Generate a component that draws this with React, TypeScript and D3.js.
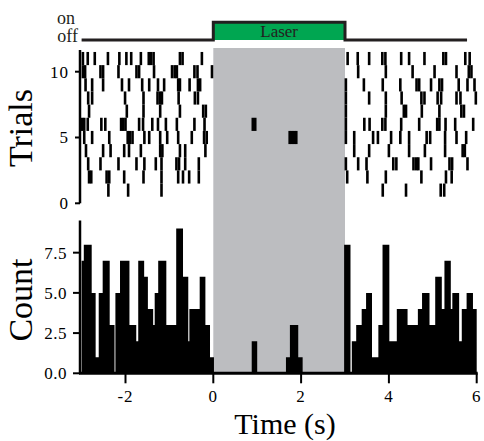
import React from 'react';
import * as d3 from 'd3';

// ---------- data ----------
const xTicks = [-2, 0, 2, 4, 6];
const trialTicks = [0, 5, 10];
const countTicks = [0, 2.5, 5, 7.5];
const laserWindow = [0, 3];
const laserTimes = [-3, 0, 0, 3, 3, 5.78];
const laserLevels = [0, 0, 1, 1, 0, 0];

// spike times (s) per trial, trial 1 = bottom row
const trial01 = [-2.39, -1.94, -1.18, 3.86, 4.39, 5.18, 5.26];
const trial02 = [-2.83, -2.78, -2.43, -2.37, -2.03, -1.59, -1.18, -0.8, -0.69, -0.55, -0.33, 3.05, 3.51, 3.93, 4.74, 5.3, 5.43];
const trial03 = [-2.85, -2.57, -2.16, -1.75, -1.57, -1.31, -1.18, -0.84, -0.78, -0.64, -0.33, 3.02, 3.3, 3.49, 4.1, 4.17, 4.56, 4.62, 4.67, 4.96, 5.38, 5.44, 5.79];
const trial04 = [-2.9, -2.51, -2.34, -2.03, -1.92, -1.65, -1.21, -1.16, -0.76, -0.64, -0.18, 3.21, 3.55, 4.0, 4.46, 4.82, 5.28, 5.68, 5.73];
const trial05 = [-2.94, -2.76, -2.37, -1.95, -1.9, -1.84, -1.57, -1.46, -1.21, -1.05, -0.8, -0.49, -0.21, -0.15, 1.74, 1.79, 1.84, 1.89, 3.02, 3.21, 3.64, 3.75, 4.05, 4.26, 4.46, 4.86, 4.94, 5.28, 5.54, 5.76];
const trial06 = [-2.99, -2.94, -2.86, -2.55, -2.46, -2.1, -2.05, -2.0, -1.69, -1.6, -1.39, -1.26, -1.08, -0.83, -0.43, -0.2, 0.9, 0.955, 3.02, 3.44, 3.56, 3.85, 3.92, 4.28, 4.69, 5.1, 5.15, 5.29, 5.51, 5.92];
const trial07 = [-2.83, -1.97, -1.59, -1.21, -0.76, -0.23, -0.17, 3.02, 3.93, 4.34, 4.39, 4.75, 5.15, 5.65, 5.71];
const trial08 = [-2.85, -2.76, -2.01, -1.59, -1.27, -1.21, -1.17, -0.79, -0.42, -0.35, 3.02, 3.55, 3.93, 4.29, 4.74, 4.81, 5.11, 5.19, 5.54, 5.63, 5.98];
const trial09 = [-2.91, -2.76, -2.51, -2.08, -1.92, -1.62, -1.46, -1.26, -1.12, -0.8, -0.76, -0.54, -0.35, -0.3, 3.02, 3.43, 3.86, 4.26, 4.63, 4.69, 4.96, 5.15, 5.21, 5.59, 5.79, 5.95];
const trial10 = [-2.97, -2.92, -2.57, -2.51, -2.16, -1.75, -1.69, -1.35, -0.94, -0.88, -0.83, -0.43, -0.36, -0.03, 3.3, 3.93, 4.54, 5.04, 5.54, 5.82, 5.88];
const trial11 = [-2.97, -2.86, -2.7, -2.4, -2.14, -1.98, -1.87, -1.65, -1.47, -1.42, -1.36, -0.76, -0.7, -0.26, 3.06, 3.29, 3.55, 3.85, 3.92, 4.28, 4.46, 4.81, 5.24, 5.3, 5.74, 5.84];
const trials = [trial01, trial02, trial03, trial04, trial05, trial06, trial07, trial08, trial09, trial10, trial11];

// histogram: bin edges (s) and counts
const histEdges = [-3.0, -2.95, -2.77, -2.68, -2.61, -2.52, -2.36, -2.25, -2.23, -2.125, -1.91, -1.755, -1.71, -1.575, -1.49, -1.37, -1.335, -1.255, -1.07, -0.845, -0.69, -0.57, -0.545, -0.31, -0.18, -0.075, 0.015, 0.875, 1.0, 1.655, 1.745, 1.935, 2.035, 2.98, 3.125, 3.155, 3.255, 3.38, 3.48, 3.615, 3.76, 3.855, 4.01, 4.18, 4.425, 4.66, 4.755, 4.925, 5.055, 5.205, 5.265, 5.41, 5.445, 5.6, 5.66, 5.77, 5.915, 6.0];
const histCounts = [7, 8, 5, 1, 5, 7, 3, 0, 5, 7, 3, 2, 7, 6, 4, 3, 5, 7, 3, 9, 6, 2, 4, 6, 3, 1, 0, 2, 0, 1, 3, 1, 0, 8, 0, 2, 3, 4, 5, 1, 3, 8, 2, 4, 3, 4, 5, 3, 6, 4, 7, 4, 5, 2, 4, 5, 4];

const FONT = "'Liberation Serif', 'DejaVu Serif', serif";

export default function App() {
  const x = d3.scaleLinear().domain([-3, 6]).range([81.6, 476.7]);
  const yT = d3.scaleLinear().domain([0, 10]).range([203.3, 71.7]);
  const yC = d3.scaleLinear().domain([0, 9.5]).range([373.3, 220.5]);
  const yL = d3.scaleLinear().domain([0, 1]).range([40, 22.3]);

  const laserLine = d3.line<number>()
    .x((_, i) => x(laserTimes[i]))
    .y((_, i) => yL(laserLevels[i]))(laserTimes) || '';

  // step area for histogram
  const stepData = histEdges.map((e, i) => ({ t: e, c: histCounts[Math.min(i, histCounts.length - 1)] }));
  const histArea = d3.area<{ t: number; c: number }>()
    .x((d) => x(d.t))
    .y0(yC(0))
    .y1((d) => yC(d.c))
    .curve(d3.curveStepAfter)(stepData) || '';

  const axisX = 80;
  const tickW = 2.6;

  return (
    <div style={{ position: 'absolute', left: 0, top: 0 }}>
      <svg width={484} height={441} style={{ display: 'block', background: '#fff' }} fontFamily={FONT}>
        {/* laser shading */}
        <rect x={x(laserWindow[0])} y={48} width={x(laserWindow[1]) - x(laserWindow[0])} height={yC(0) - 48 - 1} fill="#bcbdc0" />

        {/* laser trace */}
        <rect x={x(laserWindow[0])} y={yL(1)} width={x(laserWindow[1]) - x(laserWindow[0])} height={yL(0) - yL(1)} fill="#00a651" />
        <path d={laserLine} fill="none" stroke="#231f20" strokeWidth={3} />
        <text x={(x(laserWindow[0]) + x(laserWindow[1])) / 2} y={37} textAnchor="middle" fontSize={17} fill="#231f20">Laser</text>
        <text x={75} y={24} textAnchor="end" fontSize={18} fill="#231f20">on</text>
        <text x={78} y={42} textAnchor="end" fontSize={18} fill="#231f20">off</text>

        {/* raster */}
        {trials.map((spikes, k) =>
          spikes.map((t, j) => (
            <rect key={`r${k}-${j}`} x={x(t) - tickW / 2} y={yT(k + 1 + 0.5)} width={tickW} height={yT(k + 1 - 0.5) - yT(k + 1 + 0.5)} fill="#000" />
          ))
        )}
        <line x1={axisX} x2={axisX} y1={yT(0)} y2={yT(11.65)} stroke="#000" strokeWidth={2.5} />
        {trialTicks.map((t) => (
          <g key={`tt${t}`}>
            <line x1={axisX - 5} x2={axisX} y1={yT(t)} y2={yT(t)} stroke="#000" strokeWidth={2} />
            <text x={69} y={yT(t)} dy="0.35em" textAnchor="end" fontSize={17} letterSpacing={1}>{t}</text>
          </g>
        ))}
        <text transform={`translate(32,${128}) rotate(-90)`} textAnchor="middle" fontSize={34}>Trials</text>

        {/* histogram */}
        <path d={histArea} fill="#000" />
        <line x1={axisX} x2={axisX} y1={yC(0)} y2={yC(9.5)} stroke="#000" strokeWidth={2.5} />
        <line x1={axisX - 1} x2={x(6) + 1} y1={yC(0)} y2={yC(0)} stroke="#000" strokeWidth={3} />
        {countTicks.map((v) => (
          <g key={`ct${v}`}>
            <line x1={axisX - 7} x2={axisX} y1={yC(v)} y2={yC(v)} stroke="#000" strokeWidth={2} />
            <text x={67} y={yC(v)} dy="0.35em" textAnchor="end" fontSize={17} letterSpacing={0.5}>{v.toFixed(1)}</text>
          </g>
        ))}
        {xTicks.map((t) => (
          <g key={`xt${t}`}>
            <line x1={x(t)} x2={x(t)} y1={yC(0)} y2={yC(0) + 10} stroke="#000" strokeWidth={2} />
            <text x={x(t)} y={402} textAnchor="middle" fontSize={17} letterSpacing={1}>{t < 0 ? `-${Math.abs(t)}` : t}</text>
          </g>
        ))}
        <text transform={`translate(32,${300}) rotate(-90)`} textAnchor="middle" fontSize={34}>Count</text>
        <text x={285} y={434} textAnchor="middle" fontSize={30}>Time (s)</text>
      </svg>
    </div>
  );
}
